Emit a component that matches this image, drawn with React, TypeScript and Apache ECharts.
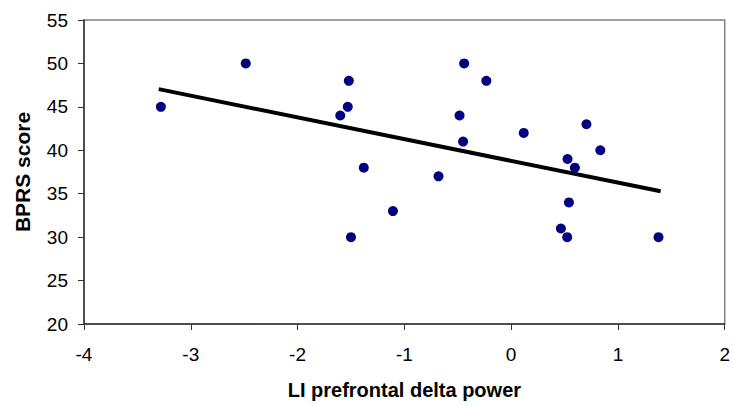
import React, { useEffect, useRef } from "react";
import * as echarts from "echarts";

const liDelta = [-3.28, -2.485, -1.52, -1.53, -1.6, -1.38, -1.5, -1.107, -0.68, -0.44, -0.232, -0.483, -0.45, 0.118, 0.705, 0.835, 0.528, 0.597, 0.541, 0.466, 0.525, 1.38];
const bprs = [45, 50, 48, 45, 44, 38, 30, 33, 37, 50, 48, 44, 41, 42, 43, 40, 39, 38, 34, 31, 30, 30];
const trendX = [-3.3, 1.4];
const trendY = [47.04, 35.28];
const xTitle = "LI prefrontal delta power";
const yTitle = "BPRS score";

export default function App() {
  const ref = useRef<HTMLDivElement>(null);
  useEffect(() => {
    if (!ref.current) return;
    const chart = echarts.init(ref.current, null, { renderer: "svg" });
    const font = "'Liberation Sans', Arial, sans-serif";
    chart.setOption({
      animation: false,
      backgroundColor: "#fff",
      grid: {
        left: 84,
        top: 20,
        right: 5,
        bottom: 80,
        show: true,
        borderColor: "#808080",
        borderWidth: 1.5,
        containLabel: false,
      },
      xAxis: {
        type: "value",
        min: -4,
        max: 2,
        interval: 1,
        name: xTitle,
        nameLocation: "middle",
        nameGap: 56,
        nameTextStyle: { fontFamily: font, fontSize: 20, fontWeight: "bold", color: "#000" },
        axisLine: { show: true, onZero: false, lineStyle: { color: "#333", width: 1.5 } },
        axisTick: { show: true, length: 6, lineStyle: { color: "#333" } },
        axisLabel: { fontFamily: font, fontSize: 19, color: "#000", margin: 21 },
        splitLine: { show: false },
      },
      yAxis: {
        type: "value",
        min: 20,
        max: 55,
        interval: 5,
        name: yTitle,
        nameLocation: "middle",
        nameGap: 51,
        nameTextStyle: { fontFamily: font, fontSize: 21, fontWeight: "bold", color: "#000" },
        axisLine: { show: true, onZero: false, lineStyle: { color: "#333", width: 1.5 } },
        axisTick: { show: true, length: 6, lineStyle: { color: "#333" } },
        axisLabel: { fontFamily: font, fontSize: 19, color: "#000", margin: 16 },
        splitLine: { show: false },
      },
      series: [
        {
          type: "line",
          data: trendX.map((x, i) => [x, trendY[i]]),
          symbol: "none",
          lineStyle: { color: "#000", width: 4 },
          z: 2,
        },
        {
          type: "scatter",
          data: liDelta.map((x, i) => [x, bprs[i]]),
          symbol: "circle",
          symbolSize: 10,
          itemStyle: { color: "#000080", opacity: 1 },
          z: 3,
        },
      ],
    });
    return () => chart.dispose();
  }, []);
  return <div ref={ref} style={{ position: "fixed", left: 0, top: 0, width: 733, height: 405 }} />;
}
